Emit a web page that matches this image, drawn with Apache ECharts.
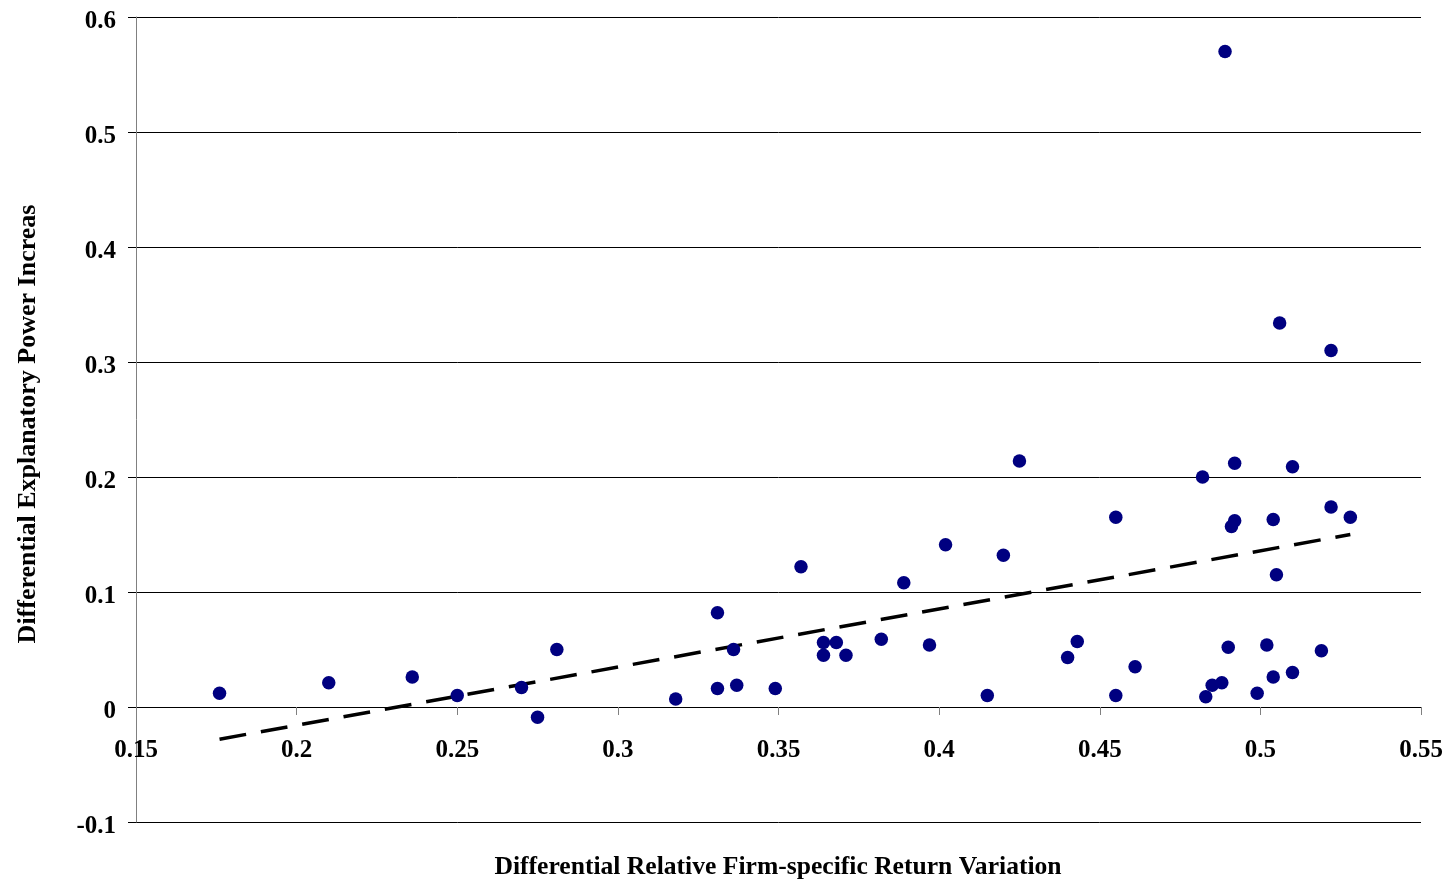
<!DOCTYPE html>
<html>
<head>
<meta charset="utf-8">
<script src="https://cdn.jsdelivr.net/npm/echarts@6/dist/echarts.min.js"></script>
<style>html,body{margin:0;padding:0;background:#fff;}#c{width:1450px;height:883px;}</style>
</head>
<body>
<div id="c"></div>
<script>
const xValues = [0.176,0.210,0.236,0.250,0.270,0.275,0.281,0.318,0.331,0.331,0.336,0.337,0.349,0.357,0.364,0.364,0.368,0.371,0.382,0.389,0.397,0.402,0.415,0.420,0.425,0.440,0.443,0.455,0.455,0.461,0.482,0.483,0.485,0.488,0.489,0.490,0.491,0.492,0.492,0.499,0.502,0.504,0.504,0.505,0.506,0.510,0.510,0.519,0.522,0.522,0.528];
const yValues = [0.012,0.021,0.026,0.010,0.017,-0.009,0.050,0.007,0.082,0.016,0.050,0.019,0.016,0.122,0.056,0.045,0.056,0.045,0.059,0.108,0.054,0.141,0.010,0.132,0.214,0.043,0.057,0.165,0.010,0.035,0.200,0.009,0.019,0.021,0.570,0.052,0.157,0.162,0.212,0.012,0.054,0.163,0.026,0.115,0.334,0.209,0.030,0.049,0.174,0.310,0.165];
const trendX = [0.176,0.528];
const trendY = [-0.028,0.150];
const xTickLabels = ['0.15','0.2','0.25','0.3','0.35','0.4','0.45','0.5','0.55'];
const yTickLabels = ['-0.1','0','0.1','0.2','0.3','0.4','0.5','0.6'];
const xTitle = 'Differential Relative Firm-specific Return Variation';
const yTitle = 'Differential Explanatory Power Increas';

const points = xValues.map((x,i)=>[x,yValues[i]]);
const trend = trendX.map((x,i)=>[x,trendY[i]]);
const FONT = '"Liberation Serif","Times New Roman",serif';

const chart = echarts.init(document.getElementById('c'), null, {renderer:'canvas'});
chart.setOption({
  animation:false,
  backgroundColor:'#ffffff',
  grid:{left:136,right:29,top:17,bottom:61,containLabel:false,outerBoundsMode:'none'},
  xAxis:{
    type:'value',min:0.15,max:0.55,interval:0.05,
    axisLine:{show:true,onZero:true,lineStyle:{color:'#000',width:1}},
    axisTick:{show:true,inside:false,length:8,lineStyle:{color:'#808080'}},
    axisLabel:{margin:-84,fontFamily:FONT,fontWeight:'bold',fontSize:25,color:'#000',
      formatter:(v)=>{const i=Math.round((v-0.15)/0.05);return xTickLabels[i]!==undefined?xTickLabels[i]:'';}},
    splitLine:{show:false}
  },
  yAxis:{
    type:'value',min:-0.1,max:0.6,interval:0.1,
    axisLine:{show:true,onZero:false,lineStyle:{color:'#808080',width:1}},
    axisTick:{show:true,inside:false,length:8,lineStyle:{color:'#000'}},
    axisLabel:{margin:20,lineHeight:10,verticalAlign:'top',fontFamily:FONT,fontWeight:'bold',fontSize:25,color:'#000',
      formatter:(v)=>{const i=Math.round((v+0.1)/0.1);return yTickLabels[i]!==undefined?yTickLabels[i]:'';}},
    splitLine:{show:true,lineStyle:{color:'#000',width:1}}
  },
  graphic:[
    {type:'text',x:778,y:867,style:{text:xTitle,fontFamily:FONT,fontWeight:'bold',fontSize:25.6,fill:'#000',textAlign:'center',textVerticalAlign:'middle'}},
    {type:'text',x:28,y:424,rotation:Math.PI/2,style:{text:yTitle,fontFamily:FONT,fontWeight:'bold',fontSize:26,fill:'#000',textAlign:'center',textVerticalAlign:'middle'}}
  ],
  series:[
    {type:'line',data:trend,symbol:'none',z:2,lineStyle:{color:'#000',width:3.5,type:[27,15]}},
    {type:'scatter',data:points,symbol:'circle',symbolSize:13.5,z:3,itemStyle:{color:'#000080',opacity:1}}
  ]
});
</script>
</body>
</html>
